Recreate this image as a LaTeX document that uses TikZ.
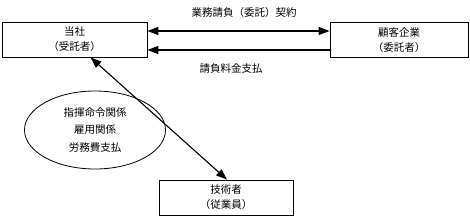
\documentclass[tikz,border=0pt]{standalone}
\usepackage{fontspec}
\setmainfont{Noto Sans CJK JP}
\usetikzlibrary{arrows.meta,shapes.geometric}
\tikzset{
  party/.style={draw, line width=0.8pt, minimum height=35pt, inner sep=0pt, align=center,
    font=\fontsize{10.5}{15}\selectfont},
  rel/.style={draw, ellipse, line width=0.8pt, minimum width=141pt, minimum height=78pt, inner sep=0pt,
    align=center, font=\fontsize{10.5}{17.5}\selectfont},
  lbl/.style={inner sep=0pt, font=\fontsize{10.5}{13}\selectfont},
  conn/.style={line width=1.1pt, -{Triangle[length=11pt,width=8pt]}},
  dconn/.style={line width=1.1pt, {Triangle[length=11pt,width=8pt]}-{Triangle[length=11pt,width=8pt]}}
}
\begin{document}
\begin{tikzpicture}[x=1pt,y=-1pt]
\useasboundingbox (0,0) rectangle (470,217);
\node[party, minimum width=145pt] (a) at (74.5,39.5) {当社\\（受託者）};
\node[party, minimum width=138pt] (b) at (399,40) {顧客企業\\（委託者）};
\node[party, minimum width=134pt] (c) at (226,197.5) {技術者\\（従業員）};
\node[rel] (e) at (95,130) {指揮命令関係\\雇用関係\\労務費支払};
\node[lbl] (t1) at (244,13) {業務請負（委託）契約};
\node[lbl] (t2) at (231,69) {請負料金支払};
\draw[dconn] ([yshift=8.5pt]a.east) -- ([yshift=8.5pt]a.east -| b.west);
\draw[conn] ([yshift=-10.5pt]a.east -| b.west) -- ([yshift=-10.5pt]a.east);
\draw[dconn] ([xshift=16pt]a.south) -- ([xshift=1pt]c.north);
\end{tikzpicture}
\end{document}
